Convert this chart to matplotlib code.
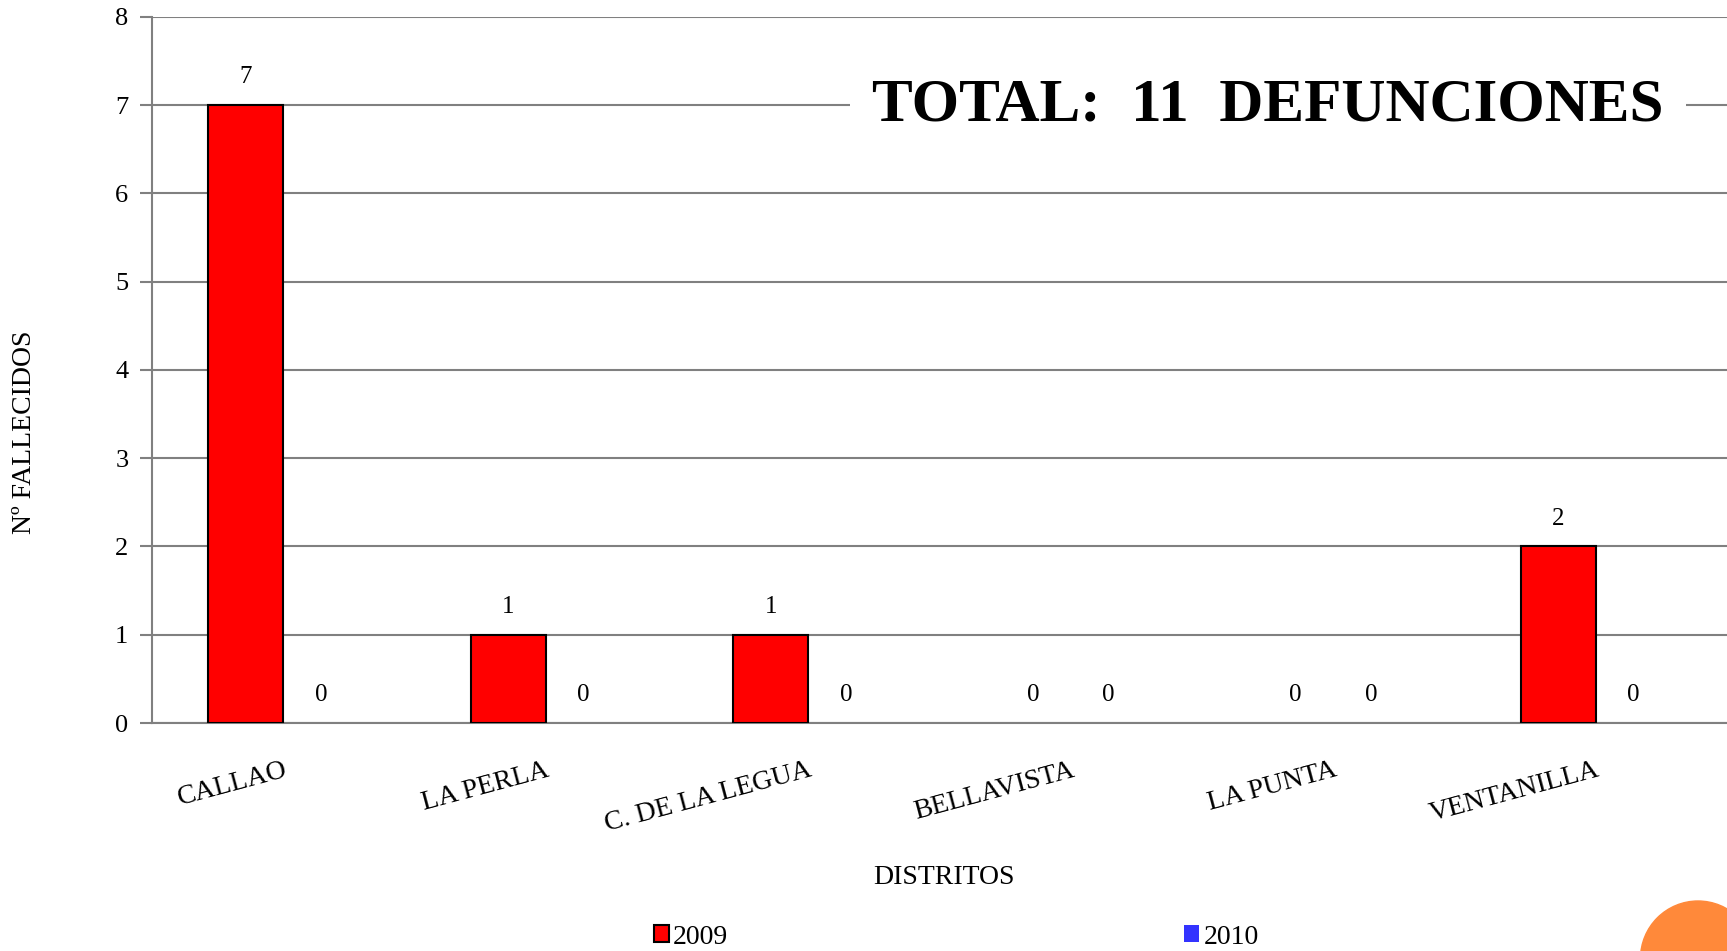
"""Defunciones por distrito (Callao), comparación 2009 / 2010."""
import matplotlib
matplotlib.use("Agg")
import matplotlib.pyplot as plt
import numpy as np
from matplotlib.patches import Patch, Circle

OUT_PNG = "out.png"

DISTRITOS = ["CALLAO", "LA PERLA", "C. DE LA LEGUA", "BELLAVISTA",
             "LA PUNTA", "VENTANILLA"]
VALORES_2009 = [7, 1, 1, 0, 0, 2]
VALORES_2010 = [0, 0, 0, 0, 0, 0]
SERIES = ["2009", "2010"]
Y_TICKS = [0, 1, 2, 3, 4, 5, 6, 7, 8]

ROJO = "#FF0000"
AZUL = "#3333FF"
GRIS = "#808080"
NARANJA = "#FF893A"


def build_chart():
    plt.rcParams["font.family"] = ["Liberation Serif", "DejaVu Serif"]

    fig = plt.figure(figsize=(17.27, 9.51), dpi=100)
    ax = fig.add_axes([0.088, 0.2397, 0.912, 0.7427])

    x = np.arange(len(DISTRITOS))
    width = 0.286
    for offset, vals, color in ((-width / 2, VALORES_2009, ROJO),
                                (width / 2, VALORES_2010, AZUL)):
        # las barras en cero no muestran borde
        lw = [1.5 if v > 0 else 0 for v in vals]
        bars = ax.bar(x + offset, vals, width, color=color,
                      edgecolor="black", linewidth=lw, zorder=3)
        for b, v in zip(bars, vals):
            ax.annotate(f"{v}", (b.get_x() + b.get_width() / 2, v),
                        xytext=(0, 20), textcoords="offset points",
                        ha="center", va="center", fontsize=18)

    ax.set_xlim(-0.5, len(DISTRITOS) - 0.5)
    ax.set_ylim(0, 8)
    ax.set_yticks(Y_TICKS)
    ax.set_yticklabels([str(t) for t in Y_TICKS], fontsize=19)
    ax.yaxis.grid(True, color=GRIS, linewidth=1.5, zorder=0)
    ax.set_axisbelow(True)
    ax.tick_params(axis="y", length=9, width=1.5, color=GRIS, pad=8)

    ax.set_xticks(x)
    ax.set_xticklabels(DISTRITOS, rotation=15, ha="right",
                       rotation_mode="anchor", fontsize=20)
    ax.tick_params(axis="x", length=0, pad=25)

    for side in ("top", "right"):
        ax.spines[side].set_visible(False)
    ax.spines["left"].set_color(GRIS)
    ax.spines["left"].set_linewidth(1.5)
    ax.spines["bottom"].set_color(GRIS)
    ax.spines["bottom"].set_linewidth(1.5)

    fig.text(0.0139, 0.5457, "Nº FALLECIDOS", rotation=90, ha="center",
             va="center", fontsize=20)
    fig.text(0.5466, 0.0778, "DISTRITOS", ha="center", va="center",
             fontsize=20)

    # Rótulo del total, con fondo blanco que tapa la línea de 7
    ax.text(0.7086, 7, "TOTAL:  11  DEFUNCIONES",
            transform=ax.get_yaxis_transform(),
            ha="center", va="center", fontsize=44, fontweight="bold",
            bbox=dict(facecolor="white", edgecolor="none", pad=16), zorder=4)

    handles = [Patch(facecolor=ROJO, edgecolor="black", linewidth=1.5),
               Patch(facecolor=AZUL, edgecolor="none")]
    fig.legend(handles, SERIES, ncol=2, loc="center",
               bbox_to_anchor=(0.5536, 0.0147), frameon=False, fontsize=20,
               handlelength=0.55, handleheight=0.55, handletextpad=0.15,
               columnspacing=16.4, borderaxespad=0, borderpad=0)

    # Círculo decorativo de la plantilla (en pulgadas, para que sea redondo)
    fig.add_artist(Circle((16.98, -0.075), 0.575,
                          transform=fig.dpi_scale_trans, color=NARANJA,
                          clip_on=False))

    fig.savefig(OUT_PNG, dpi=100)


if __name__ == "__main__":
    build_chart()
